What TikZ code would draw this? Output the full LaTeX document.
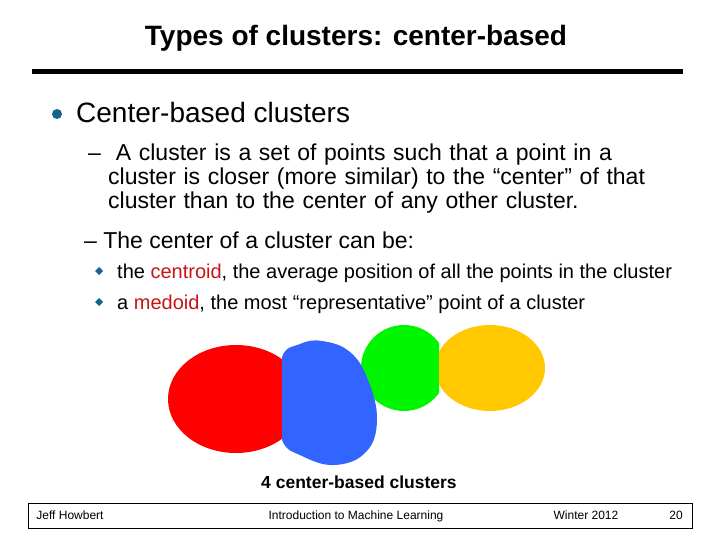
\documentclass[tikz,border=0pt]{standalone}
\usepackage{fontspec}
\setmainfont{Liberation Sans}
\definecolor{bulletblue}{RGB}{20,100,140}
\definecolor{hlred}{RGB}{200,20,20}
\definecolor{blobblue}{RGB}{50,100,255}
\definecolor{blobgreen}{RGB}{0,245,0}
\definecolor{blobyellow}{RGB}{255,200,0}
\begin{document}
\begin{tikzpicture}[x=1pt,y=-1pt,
    txt/.style={anchor=base west,inner sep=0pt},
    foot/.style={anchor=base,inner sep=0pt,font=\fontsize{12}{14}\selectfont}]

    \useasboundingbox (0,0) rectangle (720,540);

    \node[anchor=base,inner sep=0pt,font=\fontsize{28}{33}\selectfont\bfseries] (title) at (356,46) {Types of clusters: center-based};
    \draw[line width=5pt] (32,72) -- (683,72);

    \fill[bulletblue] (57,114) circle (5);
    \node[txt,font=\fontsize{28}{32}\selectfont] (main) at (76,123) {Center-based clusters};

    \node[txt,font=\fontsize{23}{27}\selectfont] (d1) at (88,161) {--};
    \node[txt,font=\fontsize{23}{27}\selectfont,align=left,text width=600] (def) at (108,161)
        {\ A cluster is a set of points such that a point in a\\[-3pt] cluster is closer (more similar) to the ``center'' of that\\[-3pt] cluster than to the center of any other cluster.};
    \node[txt,font=\fontsize{23}{27}\selectfont] (ctr) at (84,248) {-- The center of a cluster can be:};

    \fill[bulletblue] (99,267) -- (103,271) -- (99,275) -- (95,271) -- cycle;
    \node[txt,font=\fontsize{20}{24}\selectfont] (c1) at (117,278) {the \textcolor{hlred}{centroid}, the average position of all the points in the cluster};
    \fill[bulletblue] (99,298) -- (103,302) -- (99,306) -- (95,302) -- cycle;
    \node[txt,font=\fontsize{20}{24}\selectfont] (c2) at (117,309) {a \textcolor{hlred}{medoid}, the most ``representative'' point of a cluster};

    % clusters
    \begin{scope}
      \clip (300,300) rectangle (439,420);
      \fill[blobgreen] (404,368) ellipse (43 and 43);
    \end{scope}
    \begin{scope}
      \clip (439,300) rectangle (560,420);
      \fill[blobyellow] (490,368) ellipse (55 and 43);
    \end{scope}
    \begin{scope}
      \clip (150,330) rectangle (282,470);
      \fill[red] (236,399) ellipse (68 and 54);
    \end{scope}
    \begin{scope}
      \clip (282,330) rectangle (400,470);
      \fill[blobblue] plot[smooth cycle,tension=0.7] coordinates
          {(282,357) (300,344) (322,341) (350,352) (368,380) (377,420) (366,452) (335,465) (302,456) (282,440) (279,400)};
    \end{scope}

    \node[anchor=base,inner sep=0pt,font=\fontsize{17.5}{20}\selectfont\bfseries] (cap) at (359,488) {4 center-based clusters};

    \draw[line width=1pt] (28,503) rectangle (692,528);
    \node[foot] (f1) at (70,519) {Jeff Howbert};
    \node[foot] (f2) at (356,519) {Introduction to Machine Learning};
    \node[foot] (f3) at (586,519) {Winter 2012};
    \node[foot] (f4) at (676,519) {20};

\end{tikzpicture}
\end{document}
